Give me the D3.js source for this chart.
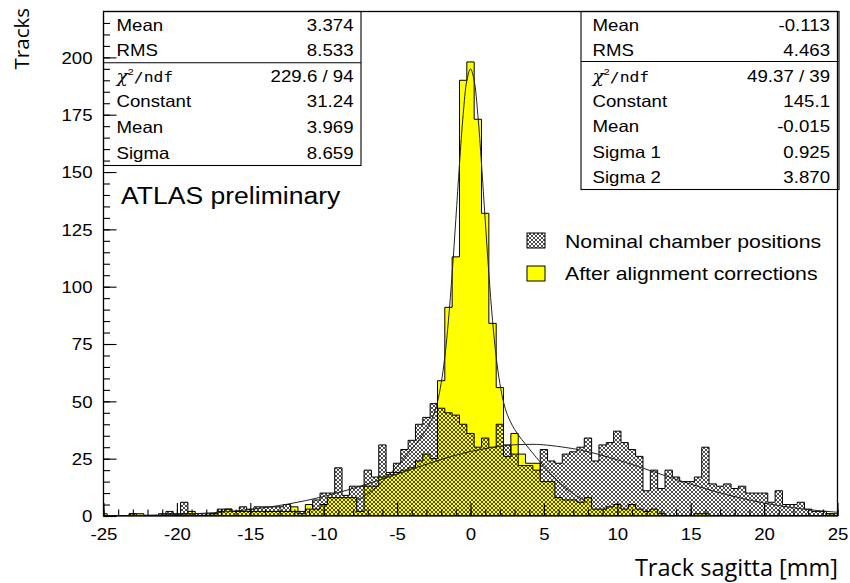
<!DOCTYPE html>
<html><head><meta charset="utf-8">
<script src="https://cdn.jsdelivr.net/npm/d3@7"></script>
<style>body{margin:0;background:#fff}svg{display:block}</style>
</head><body>
<svg id="c" width="850" height="583"></svg>
<script>
// ---------------- data ----------------
const binCenters = [-25,-24.5,-24,-23.5,-23,-22.5,-22,-21.5,-21,-20.5,-20,-19.5,-19,-18.5,-18,-17.5,-17,-16.5,-16,-15.5,-15,-14.5,-14,-13.5,-13,-12.5,-12,-11.5,-11,-10.5,-10,-9.5,-9,-8.5,-8,-7.5,-7,-6.5,-6,-5.5,-5,-4.5,-4,-3.5,-3,-2.5,-2,-1.5,-1,-0.5,0,0.5,1,1.5,2,2.5,3,3.5,4,4.5,5,5.5,6,6.5,7,7.5,8,8.5,9,9.5,10,10.5,11,11.5,12,12.5,13,13.5,14,14.5,15,15.5,16,16.5,17,17.5,18,18.5,19,19.5,20,20.5,21,21.5,22,22.5,23,23.5,24,24.5,25];
const binWidth = 0.5;
// Nominal chamber positions
const nominalCounts = [0,0,0,0,1,0,0,0,1,2,1,6,1,1,1,1,3,3,2,4,3,4,4,4,4,5,2,2,3,7,10,10,21,9,13,13,20,17,31,19,23,29,33,40,43,49,47,45,44,40,36,30,34,30,40,31,27,22,22,20,29,24,23,27,28,30,34,24,31,32,37,32,29,26,11,20,12,20,17,15,15,17,30,14,13,14,12,13,10,10,10,6,11,5,5,6,3,2,2,1,1];
// After alignment corrections
const alignedCounts = [1,0,0,0,1,1,0,0,0,1,0,1,2,0,0,1,2,3,2,2,2,2,2,2,2,2,4,1,5,3,5,8,8,8,8,2,13,13,17,18,19,20,21,24,27,25,59,91,113,190,198,173,132,84,56,26,36,27,23,23,15,15,8,7,7,6,8,3,3,4,5,3,5,3,2,3,1,0,0,0,0,1,1,0,0,0,0,0,0,0,0,0,0,0,0,0,0,0,0,1,0];
// Gaussian fit to nominal
const nominalFitX = [-25,-22.5,-20,-17.5,-15,-12.5,-10,-7.5,-5,-2.5,0,2.5,4,5,7.5,10,12.5,15,17.5,20,22.5,25];
const nominalFitY = [0.12,0.29,0.68,1.44,2.83,5.12,8.5,12.99,18.27,23.63,28.12,30.79,31.24,31.02,28.75,24.51,19.23,13.88,9.22,5.63,3.16,1.64];
// Double gaussian fit to aligned
const alignedFitX = [-8,-7,-6,-5,-4,-3.5,-3,-2.5,-2.25,-2,-1.75,-1.5,-1.25,-1,-0.75,-0.5,-0.25,0,0.25,0.5,0.75,1,1.25,1.5,1.75,2,2.25,2.5,3,3.5,4,5,6,7,8];
const alignedFitY = [5.9,9.7,15,21.7,29.3,33.3,37.8,44.3,49.7,57.8,69.3,85.4,105.7,129.3,153.5,175,189.8,195,189.8,175,153.5,129.3,105.7,85.4,69.3,57.8,49.7,44.3,37.8,33.3,29.3,21.7,15,9.7,5.9];
const xTicks = [-25,-20,-15,-10,-5,0,5,10,15,20,25];
const yTicks = [0,25,50,75,100,125,150,175,200];
const statsLeft = [["Mean","3.374"],["RMS","8.533"]];
const fitLeft = [["chi","229.6 / 94"],["Constant","31.24"],["Mean","3.969"],["Sigma","8.659"]];
const statsRight = [["Mean","-0.113"],["RMS","4.463"]];
const fitRight = [["chi","49.37 / 39"],["Constant","145.1"],["Mean","-0.015"],["Sigma 1","0.925"],["Sigma 2","3.870"]];
const legendLabels = ["Nominal chamber positions","After alignment corrections"];

// ---------------- drawing ----------------
const svg = d3.select("#c");
const F = {l:103.5, r:837.5, t:11.5, b:516};
const x = d3.scaleLinear().domain([-25,25]).range([F.l,F.r]);
const y = d3.scaleLinear().domain([0,220]).range([F.b,F.t]);
const font = "'Liberation Sans', Arial, Helvetica, sans-serif";
const SX = 1.13;

function widen(sel, sx){
  sel.each(function(){
    const t = d3.select(this);
    const tx = +t.attr("x")||0, ty = +t.attr("y")||0;
    t.attr("x",0).attr("y",0).attr("transform",`translate(${tx},${ty}) scale(${sx},1)`);
  });
}

const defs = svg.append("defs");
const pat = defs.append("pattern").attr("id","hatch").attr("patternUnits","userSpaceOnUse")
  .attr("width",4).attr("height",4);
pat.append("path").attr("d","M0,0L4,4M4,0L0,4M-1,3L1,5M3,-1L5,1M-1,1L1,-1M3,5L5,3")
  .attr("stroke","#000").attr("stroke-width",0.7).attr("fill","none");
defs.append("clipPath").attr("id","frame").append("rect")
  .attr("x",F.l).attr("y",F.t).attr("width",F.r-F.l).attr("height",F.b-F.t);

function stepPath(counts){
  const p = d3.path();
  p.moveTo(x(binCenters[0]-binWidth/2), y(0));
  binCenters.forEach((c,i)=>{
    p.lineTo(x(c-binWidth/2), y(counts[i]));
    p.lineTo(x(c+binWidth/2), y(counts[i]));
  });
  p.lineTo(x(binCenters[binCenters.length-1]+binWidth/2), y(0));
  p.closePath();
  return p.toString();
}

const plot = svg.append("g").attr("clip-path","url(#frame)");
plot.append("path").attr("d",stepPath(alignedCounts))
  .attr("fill","#ffff00").attr("stroke","#000").attr("stroke-width",1);
plot.append("path").attr("d",stepPath(nominalCounts))
  .attr("fill","url(#hatch)").attr("stroke","#000").attr("stroke-width",1);

const line = d3.line().x(d=>x(d[0])).y(d=>y(d[1])).curve(d3.curveCatmullRom);
plot.append("path").datum(nominalFitX.map((v,i)=>[v,nominalFitY[i]]))
  .attr("d",line).attr("fill","none").attr("stroke","#222").attr("stroke-width",1);
plot.append("path").datum(alignedFitX.map((v,i)=>[v,alignedFitY[i]]))
  .attr("d",line).attr("fill","none").attr("stroke","#222").attr("stroke-width",1);

// stats boxes
function statBox(x0, w, rowsTop, rowsBottom, sepY, rowY, labelX, valueX){
  const all = rowsTop.concat(rowsBottom);
  const h = rowY[all.length-1] + 12.5 - F.t;
  const g = svg.append("g");
  g.append("rect").attr("x",x0).attr("y",F.t).attr("width",w).attr("height",h)
    .attr("fill","#fff").attr("stroke","#000").attr("stroke-width",1.1);
  g.append("line").attr("x1",x0).attr("x2",x0+w).attr("y1",sepY).attr("y2",sepY)
    .attr("stroke","#000").attr("stroke-width",1.1);
  all.forEach((r,i)=>{
    const t = g.append("text").attr("x",labelX).attr("y",rowY[i]+6)
      .attr("font-family",font).attr("font-size",16.5).attr("fill","#000");
    if(r[0]==="chi"){
      t.append("tspan").attr("font-family","'DejaVu Serif', serif").attr("font-style","italic").text("χ");
      t.append("tspan").attr("font-size",9.5).attr("dy",-7).text("2");
      t.append("tspan").attr("dy",7).attr("font-family","'DejaVu Sans Mono', monospace").attr("font-size",14.5).text("/ndf");
    } else t.text(r[0]);
    widen(t, SX);
    const v = g.append("text").attr("x",valueX).attr("y",rowY[i]+6).attr("text-anchor","end")
      .attr("font-family",font).attr("font-size",16.5).text(r[1]);
    widen(v, SX);
  });
}
statBox(103.5, 257.5, statsLeft, fitLeft, 62.7, [25,50,76,101,127,153], 116.5, 353.5);
statBox(581, 258, statsRight, fitRight, 61.5, [25,50,76,101,126,151.5,177], 592.5, 830);

// legend
const lg = svg.append("g");
lg.append("rect").attr("x",527).attr("y",233).attr("width",18).attr("height",15)
  .attr("fill","url(#hatch)").attr("stroke","#000").attr("stroke-width",1);
lg.append("rect").attr("x",527).attr("y",266).attr("width",18).attr("height",15)
  .attr("fill","#ffff00").attr("stroke","#000").attr("stroke-width",1);
legendLabels.forEach((s,i)=>{
  const t = lg.append("text").attr("x",565).attr("y",[241,273][i]+7)
    .attr("font-family",font).attr("font-size",18.8).text(s);
  widen(t, SX);
});
const atl = svg.append("text").attr("x",121).attr("y",204)
  .attr("font-family",font).attr("font-size",23.5).text("ATLAS preliminary");
widen(atl, SX);

// axes
const ax = svg.append("g");
ax.append("rect").attr("x",F.l).attr("y",F.t).attr("width",F.r-F.l).attr("height",F.b-F.t)
  .attr("fill","none").attr("stroke","#000").attr("stroke-width",1.3);
const yMinor = d3.range(0,220,5);
const xMinor = d3.range(-25,26,1);
const fmt = d => String(d);
ax.append("g").attr("transform",`translate(${F.l},0)`)
  .call(d3.axisLeft(y).tickValues(yMinor).tickSize(-6.5).tickFormat(""))
  .call(g=>g.select(".domain").remove());
ax.append("g").attr("transform",`translate(${F.l},0)`)
  .call(d3.axisLeft(y).tickValues(yTicks).tickSize(-13).tickPadding(11).tickFormat(fmt))
  .call(g=>g.select(".domain").remove())
  .call(g=>g.selectAll("text").attr("font-family",font).attr("font-size",16.5).attr("dy","0.36em"))
  .call(g=>widen(g.selectAll("text"), SX));
ax.append("g").attr("transform",`translate(0,${F.b})`)
  .call(d3.axisBottom(x).tickValues(xMinor).tickSize(-6.5).tickFormat(""))
  .call(g=>g.select(".domain").remove());
ax.append("g").attr("transform",`translate(0,${F.b})`)
  .call(d3.axisBottom(x).tickValues(xTicks).tickSize(-13).tickPadding(12).tickFormat(fmt))
  .call(g=>g.select(".domain").remove())
  .call(g=>g.selectAll("text").attr("font-family",font).attr("font-size",16.5))
  .call(g=>widen(g.selectAll("text"), SX));
ax.selectAll(".tick line").attr("stroke","#000").attr("stroke-width",1.1);

svg.append("text").attr("transform","translate(29,8) rotate(-90)").attr("text-anchor","end")
  .attr("font-family","'Open Sans', sans-serif").attr("font-size",20.5).text("Tracks");
svg.append("text").attr("x",838).attr("y",576).attr("text-anchor","end")
  .attr("font-family","'Open Sans', sans-serif").attr("font-size",23.5).text("Track sagitta [mm]");
</script>
</body></html>
